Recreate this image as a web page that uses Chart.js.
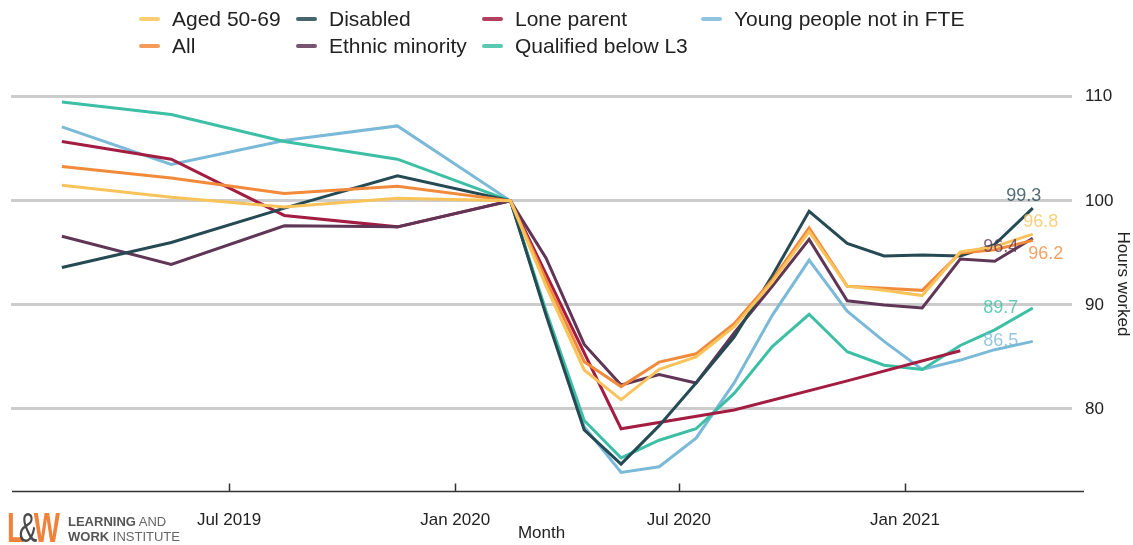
<!DOCTYPE html>
<html>
<head>
<meta charset="utf-8">
<script src="https://cdn.jsdelivr.net/npm/chart.js@4.4.0/dist/chart.umd.min.js"></script>
<style>
  html, body { margin: 0; padding: 0; background: #fff; }
  body { font-family: "Liberation Sans", Arial, sans-serif; }
  #wrap { position: relative; width: 1133px; height: 545px; overflow: hidden; }
  #chart { position: absolute; left: 0; top: 0; }
  #legend {
    position: absolute; left: 139px; top: 5px;
    display: grid; grid-auto-flow: column;
    grid-template-rows: 27px 27px;
    grid-template-columns: 157px 186px 219px auto;
    font-size: 21px; color: #222;
  }
  #legend .item { display: flex; align-items: center; white-space: nowrap; }
  #legend .swatch { width: 21px; height: 4px; border-radius: 2px; margin-right: 12px; flex: none; opacity: 0.85; }
  #logo .mark {
    position: absolute; left: 7px; top: 507px;
    font-weight: bold; font-size: 42px; line-height: 42px; color: #f0823c;
    letter-spacing: -4px; transform: scaleX(0.66); transform-origin: left top;
  }
  #logo .mark .amp { color: #4a4a4a; font-weight: normal; letter-spacing: -9px; position: relative; left: -4px; }
  #logo .name {
    position: absolute; left: 68px; top: 514px;
    font-size: 13px; line-height: 15px; color: #666;
  }
  #logo .name b { color: #555; }
</style>
</head>
<body>
<div id="wrap">
  <canvas id="chart" width="1133" height="545"></canvas>
  <div id="legend"></div>
  <div id="logo"><span class="mark">L<span class="amp">&amp;</span>W</span><span class="name"><b>LEARNING</b> AND<br><b>WORK</b> INSTITUTE</span></div>
</div>
<script>
// Survey periods (year-month) and hours worked, index Feb 2020 = 100
const periods = ['2019-02', '2019-05', '2019-08', '2019-11', '2020-02', '2020-03', '2020-04', '2020-05',
  '2020-06', '2020-07', '2020-08', '2020-09', '2020-10', '2020-11', '2020-12', '2021-01', '2021-02',
  '2021-03', '2021-04'];
const lonePeriods = ['2019-02', '2019-05', '2019-08', '2019-11', '2020-02', '2020-05', '2020-08', '2020-11', '2021-02'];

const aged = [101.5, 100.35, 99.4, 100.25, 100, 91.8, 83.75, 80.9, 83.8, 85.0, 87.9, 92.2, 97.05, 91.8, 91.4, 90.9, 95.1, 95.6, 96.8];
const all = [103.3, 102.2, 100.7, 101.4, 100, 92.4, 84.55, 82.15, 84.5, 85.3, 88.2, 92.4, 97.4, 91.8, 91.6, 91.4, 95.0, 95.3, 96.2];
const disabled = [93.6, 96.0, 99.3, 102.4, 100, 89.0, 78.0, 74.7, 78.4, 82.5, 86.9, 92.8, 99.0, 95.9, 94.7, 94.8, 94.7, 95.8, 99.3];
const ethnic = [96.6, 93.9, 97.6, 97.5, 100, 94.5, 86.2, 82.3, 83.3, 82.5, 87.3, 91.8, 96.3, 90.4, 90.0, 89.7, 94.4, 94.2, 96.4];
const lone = [105.7, 104.0, 98.6, 97.5, 100, 78.1, 79.9, 82.7, 85.6];
const qualified = [109.5, 108.3, 105.7, 104.0, 100, 89.4, 78.9, 75.3, 77.0, 78.1, 81.5, 86.0, 89.1, 85.5, 84.2, 83.8, 86.1, 87.6, 89.7];
const young = [107.1, 103.5, 105.8, 107.2, 100, 89.2, 78.3, 73.9, 74.45, 77.2, 82.5, 89.0, 94.3, 89.4, 86.5, 83.8, 84.7, 85.7, 86.5];

const xTickValues = ['2019-07', '2020-01', '2020-07', '2021-01'];
const xTickLabels = ['Jul 2019', 'Jan 2020', 'Jul 2020', 'Jan 2021'];
const yTickValues = [80, 90, 100, 110];

// days since 1 Jan 2019; data points sit on the 15th, ticks on the 1st
function dayIndex(p, day) {
  const [y, m] = p.split('-').map(Number);
  return (Date.UTC(y, m - 1, day) - Date.UTC(2019, 0, 1)) / 86400000;
}
function toPoints(ps, vals) {
  return vals.map((v, i) => ({ x: dayIndex(ps[i], 15), y: v }));
}

const FONT = '"Liberation Sans", Arial, sans-serif';

const series = [
  { label: 'Aged 50-69', data: toPoints(periods, aged), color: '#f9c35c', off: [8, -12] },
  { label: 'All', data: toPoints(periods, all), color: '#f28a3c', off: [13, 14] },
  { label: 'Disabled', data: toPoints(periods, disabled), color: '#264a54', off: [-9, -12] },
  { label: 'Ethnic minority', data: toPoints(periods, ethnic), color: '#5f3656', off: [-32, 9] },
  { label: 'Lone parent', data: toPoints(lonePeriods, lone), color: '#a31d42', off: null },
  { label: 'Qualified below L3', data: toPoints(periods, qualified), color: '#3cbfa5', off: [-32, 0] },
  { label: 'Young people not in FTE', data: toPoints(periods, young), color: '#7bb9d8', off: [-32, 0] }
];

// value labels at the end of each line
const endLabels = {
  id: 'endLabels',
  afterDatasetsDraw(chart) {
    const ctx = chart.ctx;
    ctx.save();
    ctx.font = '18px ' + FONT;
    ctx.textAlign = 'center';
    ctx.textBaseline = 'middle';
    ctx.globalAlpha = 0.8;
    chart.data.datasets.forEach((ds, i) => {
      if (!ds.endOffset) return;
      const pts = chart.getDatasetMeta(i).data;
      const last = pts[pts.length - 1];
      const v = ds.data[ds.data.length - 1].y;
      ctx.fillStyle = ds.borderColor;
      ctx.fillText(v.toFixed(1), last.x + ds.endOffset[0], last.y + ds.endOffset[1]);
    });
    ctx.restore();
  }
};

// bottom axis line with short inward tick marks
const axisLine = {
  id: 'axisLine',
  afterDraw(chart) {
    const ctx = chart.ctx;
    const area = chart.chartArea;
    const xs = chart.scales.x;
    const y = Math.round(area.bottom) + 0.5;
    ctx.save();
    ctx.strokeStyle = '#333';
    ctx.lineWidth = 1.5;
    ctx.beginPath();
    ctx.moveTo(area.left + 1, y);
    ctx.lineTo(area.right + 12, y);
    xs.ticks.forEach(t => {
      const px = Math.round(xs.getPixelForValue(t.value)) + 0.5;
      ctx.moveTo(px, y);
      ctx.lineTo(px, y - 8);
    });
    ctx.stroke();
    ctx.restore();
  }
};

const chart = new Chart(document.getElementById('chart'), {
  type: 'line',
  data: {
    datasets: series.map(s => ({
      label: s.label,
      data: s.data,
      borderColor: s.color,
      backgroundColor: s.color,
      borderWidth: 3,
      pointRadius: 0,
      tension: 0,
      endOffset: s.off
    }))
  },
  options: {
    responsive: false,
    animation: false,
    layout: { padding: { left: 11, top: 77, right: 0, bottom: 0 } },
    plugins: {
      legend: { display: false },
      tooltip: { enabled: false }
    },
    scales: {
      x: {
        type: 'linear',
        min: 3.6,
        max: 866.9,
        grid: { display: false, drawTicks: false },
        border: { display: false },
        afterBuildTicks: axis => { axis.ticks = xTickValues.map(p => ({ value: dayIndex(p, 1) })); },
        afterFit: axis => { axis.height = 54; },
        ticks: {
          padding: 19,
          color: '#222',
          font: { family: FONT, size: 17 },
          maxRotation: 0,
          autoSkip: false,
          callback: (v, i) => xTickLabels[i]
        },
        title: {
          display: true,
          text: 'Month',
          color: '#222',
          font: { family: FONT, size: 17 },
          padding: { top: 0, bottom: 1 }
        }
      },
      y: {
        position: 'right',
        min: 72.12,
        max: 111.9,
        grid: { color: '#cccccc', lineWidth: 3, drawTicks: false },
        border: { display: false },
        afterBuildTicks: axis => { axis.ticks = yTickValues.map(v => ({ value: v })); },
        afterFit: axis => { axis.width = 61; },
        ticks: {
          padding: 13,
          color: '#222',
          font: { family: FONT, size: 17 }
        },
        title: {
          display: true,
          text: 'Hours worked',
          color: '#222',
          font: { family: FONT, size: 17 },
          padding: 0
        }
      }
    }
  },
  plugins: [endLabels, axisLine]
});

// two-row legend, filled column by column
const legend = document.getElementById('legend');
chart.data.datasets.forEach(ds => {
  const item = document.createElement('div');
  item.className = 'item';
  const sw = document.createElement('span');
  sw.className = 'swatch';
  sw.style.background = ds.borderColor;
  const txt = document.createElement('span');
  txt.textContent = ds.label;
  item.appendChild(sw);
  item.appendChild(txt);
  legend.appendChild(item);
});
</script>
</body>
</html>
